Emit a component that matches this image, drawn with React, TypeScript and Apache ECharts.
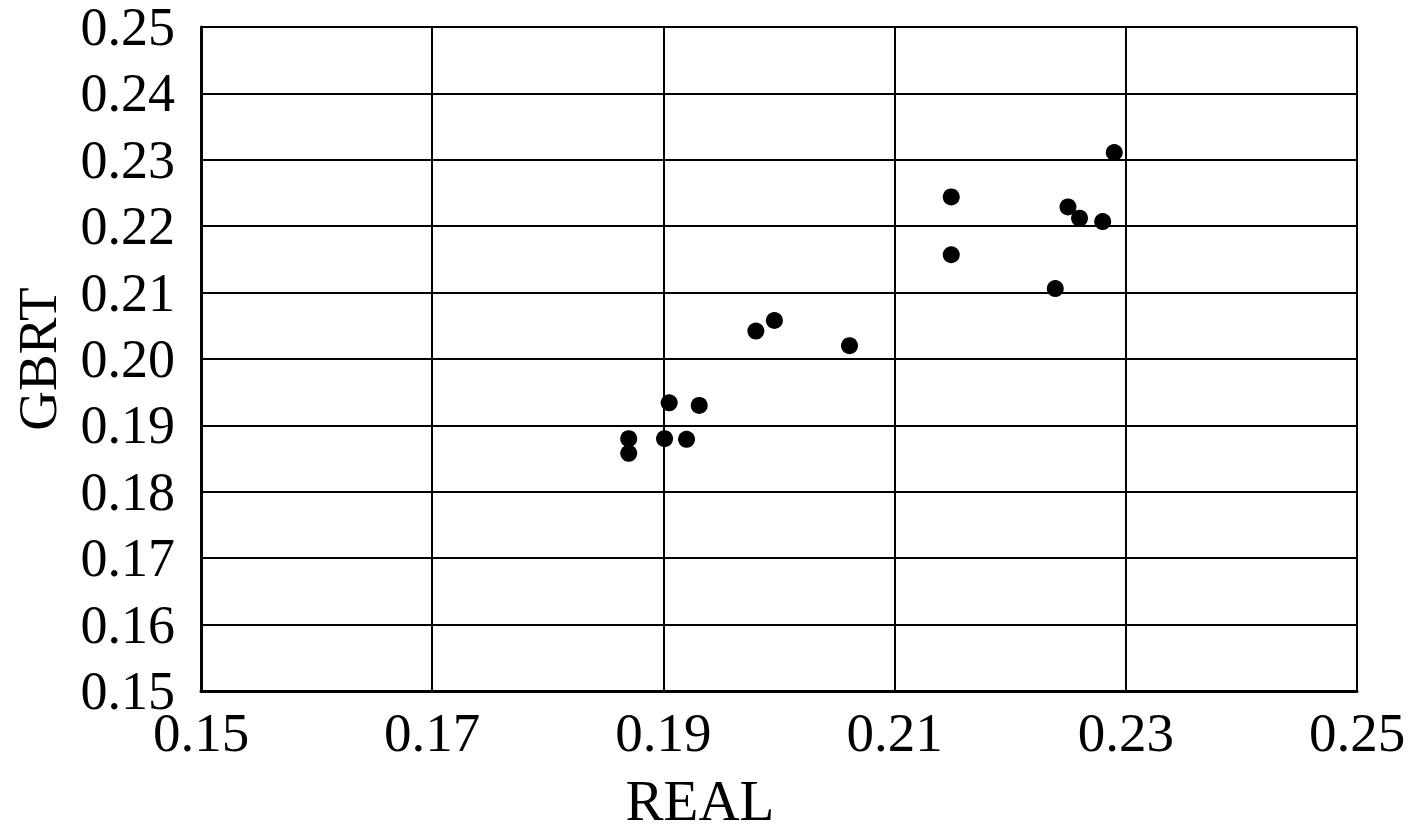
import React, { useEffect, useRef } from "react";
import * as echarts from "echarts";

const realValues = [0.187, 0.187, 0.1901, 0.1905, 0.192, 0.1931, 0.198, 0.1996, 0.2061, 0.2149, 0.2149, 0.2239, 0.225, 0.226, 0.228, 0.229];
const gbrtValues = [0.188, 0.1858, 0.188, 0.1934, 0.1879, 0.193, 0.2042, 0.2058, 0.202, 0.2244, 0.2157, 0.2106, 0.2229, 0.2212, 0.2207, 0.2311];

const xAxisMin = 0.15;
const xAxisMax = 0.25;
const xAxisStep = 0.02;
const yAxisMin = 0.15;
const yAxisMax = 0.25;
const yAxisStep = 0.01;
const xTitle = "REAL";
const yTitle = "GBRT";

const FONT = "'Liberation Serif', 'Times New Roman', serif";

export default function App() {
  const ref = useRef<HTMLDivElement>(null);
  useEffect(() => {
    if (!ref.current) return;
    const chart = echarts.init(ref.current, undefined, { renderer: "svg" });
    const data = realValues.map((x, i) => [x, gbrtValues[i]]);
    chart.setOption({
      animation: false,
      backgroundColor: "#ffffff",
      grid: { left: 201, right: 60, top: 27, bottom: 146, containLabel: false },
      graphic: [
        {
          type: "text",
          x: 700,
          y: 800,
          style: {
            text: xTitle,
            font: `57px ${FONT}`,
            fill: "#000",
            align: "center",
            verticalAlign: "middle",
          },
        },
      ],
      xAxis: {
        type: "value",
        min: xAxisMin,
        max: xAxisMax,
        interval: xAxisStep,
        axisLine: { show: true, lineStyle: { color: "#000", width: 3 } },
        axisTick: { show: false },
        axisLabel: {
          fontFamily: FONT,
          fontSize: 55,
          color: "#000",
          margin: 14,
          formatter: (v: number) => v.toFixed(2),
        },
        splitLine: { show: true, lineStyle: { color: "#000", width: 2 } },
      },
      yAxis: {
        type: "value",
        min: yAxisMin,
        max: yAxisMax,
        interval: yAxisStep,
        name: yTitle,
        nameLocation: "middle",
        nameGap: 136,
        nameTextStyle: { fontFamily: FONT, fontSize: 55, color: "#000" },
        axisLine: { show: true, lineStyle: { color: "#000", width: 3 } },
        axisTick: { show: false },
        axisLabel: {
          fontFamily: FONT,
          fontSize: 54,
          lineHeight: 48,
          color: "#000",
          margin: 26,
          formatter: (v: number) => v.toFixed(2),
        },
        splitLine: { show: true, lineStyle: { color: "#000", width: 2 } },
      },
      series: [
        {
          type: "scatter",
          data,
          symbol: "circle",
          symbolSize: 17,
          itemStyle: { color: "#000", opacity: 1 },
        },
      ],
    });
    return () => chart.dispose();
  }, []);
  return (
    <div
      ref={ref}
      style={{ position: "fixed", left: 0, top: 0, width: 1417, height: 837, background: "#fff" }}
    />
  );
}
